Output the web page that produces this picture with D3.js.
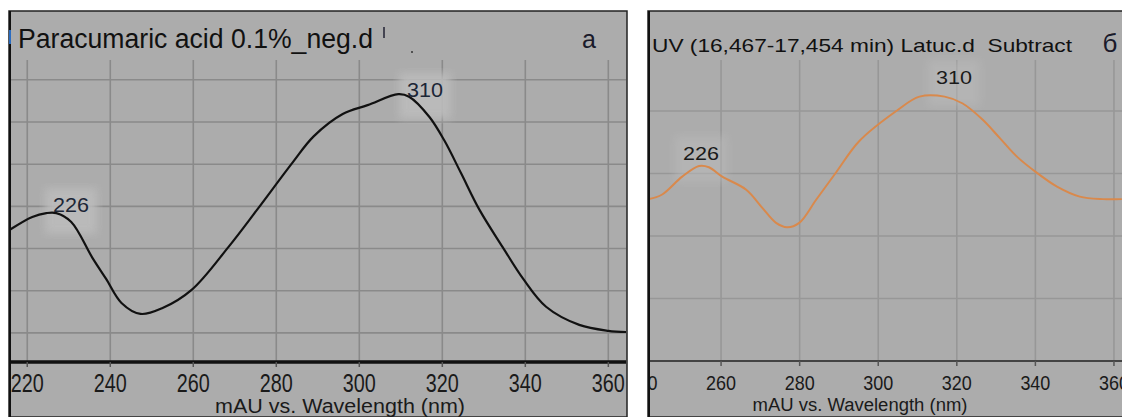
<!DOCTYPE html>
<html>
<head>
<meta charset="utf-8">
<script src="https://cdn.jsdelivr.net/npm/d3@7"></script>
<style>
  body { margin: 0; background: #fff; }
  svg text { font-family: "Liberation Sans", Arial, sans-serif; white-space: pre; }
</style>
</head>
<body>
<div class="graph_container"></div>
<script>
const w = 1122;
const h = 417;

// panel a - Paracumaric acid
const leftWavelength = [215.7, 221.2, 224.6, 227.0, 230.6, 235.7, 239, 242.7, 247.3, 252.6, 259.6, 268.5, 275.3,
  284, 289, 296, 302, 309.4, 312, 316.9, 320.5, 324.5, 329, 334.5, 339.5, 345, 353, 360, 365];
const leftAbsorbance = [24.4, 27.5, 28.4, 28.4, 26.3, 17.8, 12.8, 7.1, 4.5, 5.9, 10.2, 20.4, 29.1,
  40.5, 46.6, 51.9, 54.0, 56.6, 56.0, 51.2, 45.6, 37.9, 29.1, 20.4, 12.8, 6.2, 1.9, 0.5, 0.2];
const leftTicks = [220, 240, 260, 280, 300, 320, 340, 360];
const leftGridY = [0, 10, 20, 30, 40, 50, 60];
const leftPeaks = [226, 310];

// panel б - Latuc.d subtract
const rightWavelength = [241.6, 244.9, 250.1, 254.4, 256.9, 260.3, 266.4, 270.5, 274.0, 276.8, 279.9, 284.2,
  289.3, 295.2, 304.6, 310.5, 316.9, 321.5, 326.6, 330.9, 335.3, 340.4, 345.5, 351.3, 357.2, 362.0];
const rightAbsorbance = [25.9, 26.6, 29.5, 31.2, 31.0, 29.5, 27.4, 24.5, 22.1, 21.4, 22.1, 25.8,
  30.2, 35.2, 40.0, 42.3, 42.3, 41.2, 38.6, 35.7, 32.7, 30.1, 27.9, 26.3, 25.9, 25.9];
const rightTicks = [240, 260, 280, 300, 320, 340, 360];
const rightGridY = [10, 20, 30, 40];
const rightPeaks = [226, 310];

const svg = d3.select(".graph_container").append("svg").attr("width", w).attr("height", h);

var defs = svg.append("defs");
defs.append("filter").attr("id", "soft")
  .append("feGaussianBlur").attr("stdDeviation", 4);

function drawPanel(p) {
  var g = svg.append("g");

  g.append("rect")
    .attr("x", p.left).attr("y", 11)
    .attr("width", p.right - p.left).attr("height", h - 11)
    .attr("fill", "#acacac")
    .attr("stroke", "#222").attr("stroke-width", 1.5);

  var clipId = "clip" + p.id;
  defs.append("clipPath").attr("id", clipId)
    .append("rect")
    .attr("x", p.left + 1).attr("y", 11)
    .attr("width", p.right - p.left - 2).attr("height", h - 11);

  var xScale = d3.scaleLinear().domain(p.xDomain).range([p.left, p.right]);
  var yScale = d3.scaleLinear().domain(p.yDomain).range([p.axisY, p.plotTop]);

  var inner = g.append("g").attr("clip-path", "url(#" + clipId + ")");

  // grid
  inner.selectAll(".vgrid")
    .data(p.ticks)
    .enter()
    .append("line")
    .attr("x1", d => xScale(d)).attr("x2", d => xScale(d))
    .attr("y1", p.plotTop).attr("y2", p.axisY)
    .attr("stroke", p.gridColor).attr("stroke-width", 1.6);

  inner.selectAll(".hgrid")
    .data(p.gridY)
    .enter()
    .append("line")
    .attr("x1", p.left).attr("x2", p.right)
    .attr("y1", d => yScale(d)).attr("y2", d => yScale(d))
    .attr("stroke", p.gridColor).attr("stroke-width", 1.6);

  // light patches behind peak labels
  inner.selectAll(".halo")
    .data(p.peaks)
    .enter()
    .append("rect")
    .attr("x", (d, i) => p.labelX[i] - 26)
    .attr("y", (d, i) => p.labelY[i] - 24)
    .attr("width", 52).attr("height", 46)
    .attr("fill", "#bcbcbc")
    .attr("filter", "url(#soft)")
    .attr("opacity", p.haloOpacity);

  var line = d3.line()
    .x((d, i) => xScale(p.xs[i]))
    .y(d => yScale(d))
    .curve(d3.curveCatmullRom.alpha(0.5));

  inner.append("path")
    .datum(p.ys)
    .attr("d", line)
    .attr("fill", "none")
    .attr("stroke", p.lineColor)
    .attr("stroke-width", p.lineWidth);

  // x axis
  inner.append("line")
    .attr("x1", p.left).attr("x2", p.right)
    .attr("y1", p.axisY).attr("y2", p.axisY)
    .attr("stroke", p.axisColor).attr("stroke-width", p.axisWidth);

  inner.selectAll(".tick")
    .data(p.ticks)
    .enter()
    .append("line")
    .attr("x1", d => xScale(d)).attr("x2", d => xScale(d))
    .attr("y1", p.axisY).attr("y2", p.axisY + 5)
    .attr("stroke", "#555").attr("stroke-width", 1.5);

  inner.selectAll(".ticklabel")
    .data(p.ticks)
    .enter()
    .append("text")
    .attr("x", d => xScale(d))
    .attr("y", p.tickBaseline)
    .attr("text-anchor", "middle")
    .attr("font-size", p.tickSize)
    .attr("textLength", p.tickWidth)
    .attr("lengthAdjust", "spacingAndGlyphs")
    .attr("fill", "#1a1a1a")
    .text(d => d);

  g.append("text")
    .attr("x", p.titleX).attr("y", p.axisTitleY)
    .attr("text-anchor", "middle")
    .attr("font-size", p.axisTitleSize)
    .attr("textLength", p.axisTitleWidth)
    .attr("lengthAdjust", "spacingAndGlyphs")
    .attr("fill", "#1a1a1a")
    .text("mAU vs. Wavelength (nm)");

  // left border of plot area
  g.append("line")
    .attr("x1", p.left + 1).attr("x2", p.left + 1)
    .attr("y1", 11).attr("y2", h)
    .attr("stroke", "#111").attr("stroke-width", 2);

  // peak labels
  g.selectAll(".peak")
    .data(p.peaks)
    .enter()
    .append("text")
    .attr("x", (d, i) => p.labelX[i])
    .attr("y", (d, i) => p.labelY[i])
    .attr("text-anchor", "middle")
    .attr("font-size", (d, i) => p.labelSize[i])
    .attr("textLength", 36)
    .attr("lengthAdjust", "spacingAndGlyphs")
    .attr("fill", p.labelColor)
    .text(d => d);

  // header
  g.append("text")
    .attr("x", p.headX).attr("y", p.headY)
    .attr("font-size", p.headSize)
    .attr("textLength", p.headWidth)
    .attr("lengthAdjust", "spacingAndGlyphs")
    .attr("fill", "#111")
    .text(p.head);

  g.append("text")
    .attr("x", p.letterX).attr("y", p.headY)
    .attr("text-anchor", "middle")
    .attr("font-size", p.letterSize)
    .attr("fill", "#1a1a2a")
    .text(p.letter);

  return g;
}

var left = drawPanel({
  id: "a", left: 9, right: 627, plotTop: 60, axisY: 362,
  xDomain: [215.6, 364.5], yDomain: [-6.9, 64.7],
  xs: leftWavelength, ys: leftAbsorbance, ticks: leftTicks, gridY: leftGridY,
  gridColor: "#8a8a8a", lineColor: "#111", lineWidth: 2.2,
  axisColor: "#111", axisWidth: 3.5,
  tickBaseline: 392, tickSize: 25, tickWidth: 33,
  titleX: 340, axisTitleY: 413, axisTitleSize: 20, axisTitleWidth: 250,
  peaks: leftPeaks, labelX: [71, 425], labelY: [212, 97], labelSize: [21, 21],
  labelColor: "#1c2636", haloOpacity: 0.9,
  head: "Paracumaric acid 0.1%_neg.d", headX: 18, headY: 48, headSize: 27, headWidth: 355,
  letter: "a", letterX: 589, letterSize: 25
});

// small marks next to the left header
left.append("line").attr("x1", 384).attr("x2", 384).attr("y1", 27).attr("y2", 38)
  .attr("stroke", "#223").attr("stroke-width", 1.5);
left.append("circle").attr("cx", 412).attr("cy", 52).attr("r", 1).attr("fill", "#333");
left.append("rect").attr("x", 9).attr("y", 30).attr("width", 2).attr("height", 14).attr("fill", "#2a6cc0");

drawPanel({
  id: "b", left: 648, right: 1123, plotTop: 60, axisY: 361,
  xDomain: [241.4, 362.3], yDomain: [0, 48.16],
  xs: rightWavelength, ys: rightAbsorbance, ticks: rightTicks, gridY: rightGridY,
  gridColor: "#979797", lineColor: "#d9894c", lineWidth: 2,
  axisColor: "#444", axisWidth: 2,
  tickBaseline: 390, tickSize: 20, tickWidth: 30,
  titleX: 860, axisTitleY: 411, axisTitleSize: 18, axisTitleWidth: 215,
  peaks: rightPeaks, labelX: [701, 954], labelY: [160, 84], labelSize: [19, 18],
  labelColor: "#1a1a1a", haloOpacity: 0.5,
  head: "UV (16,467-17,454 min) Latuc.d  Subtract", headX: 652, headY: 52, headSize: 19, headWidth: 420,
  letter: "б", letterX: 1110, letterSize: 26
});
</script>
</body>
</html>
